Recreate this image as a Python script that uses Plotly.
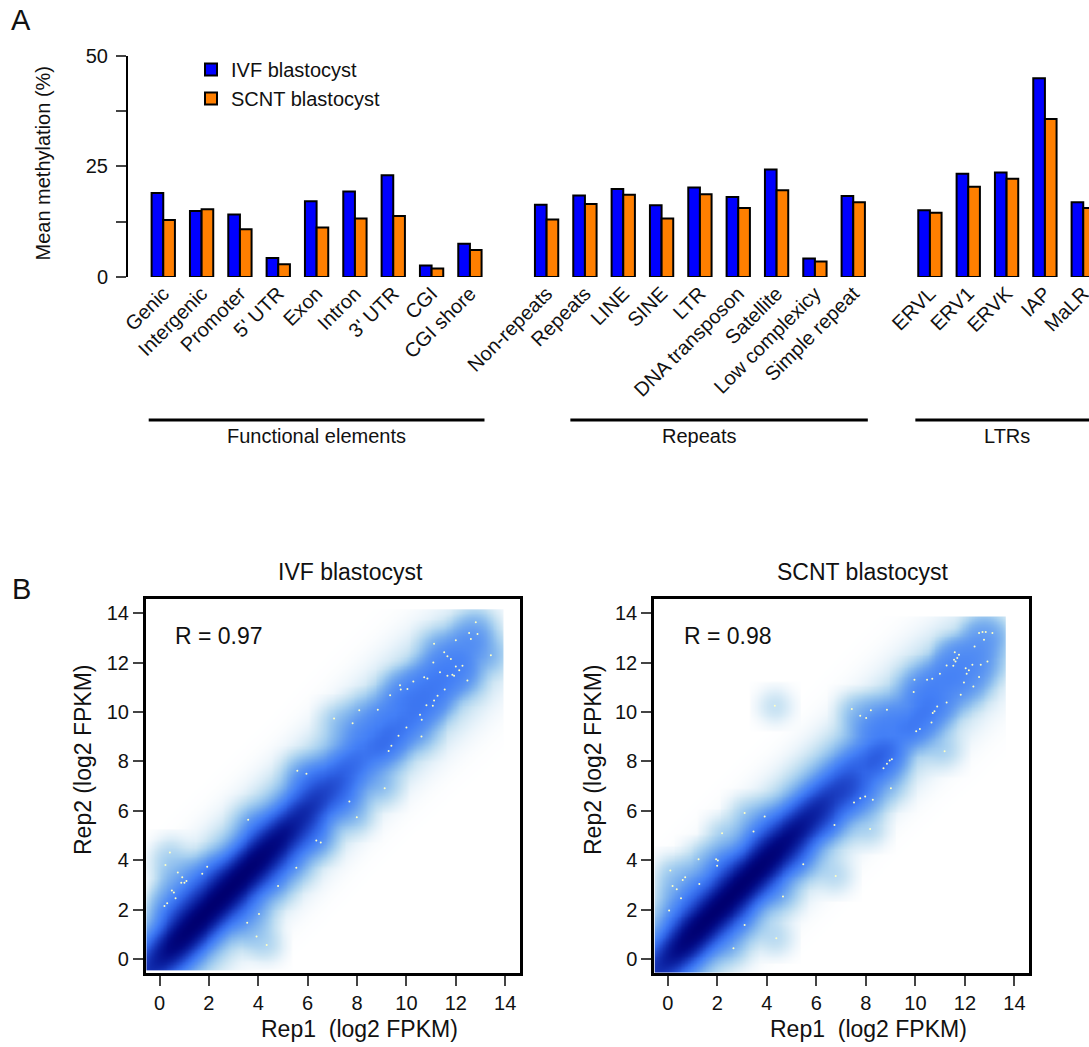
import numpy as np
import plotly.graph_objects as go

W, H = 1089, 1047
FONT = "Arial, Liberation Sans, sans-serif"

# ---------------- Panel A : mean methylation ----------------
functional_labels = ["Genic", "Intergenic", "Promoter", "5' UTR", "Exon", "Intron", "3' UTR", "CGI", "CGI shore"]
functional_ivf = [19.0, 14.9, 14.1, 4.3, 17.1, 19.3, 23.0, 2.6, 7.5]
functional_scnt = [12.9, 15.3, 10.8, 2.9, 11.2, 13.2, 13.8, 1.9, 6.1]

repeat_labels = ["Non-repeats", "Repeats", "LINE", "SINE", "LTR", "DNA transposon", "Satellite", "Low complexicy", "Simple repeat"]
repeat_ivf = [16.3, 18.4, 19.9, 16.2, 20.2, 18.1, 24.3, 4.2, 18.3]
repeat_scnt = [13.0, 16.5, 18.6, 13.2, 18.7, 15.6, 19.6, 3.5, 16.9]

ltr_labels = ["ERVL", "ERV1", "ERVK", "IAP", "MaLR"]
ltr_ivf = [15.1, 23.3, 23.6, 44.9, 16.9]
ltr_scnt = [14.5, 20.4, 22.2, 35.7, 15.6]

group_titles = ["Functional elements", "Repeats", "LTRs"]
group_title_first = ["Genic", "Non-repeats", "ERVL"]
group_title_last = ["CGI shore", "Simple repeat", "MaLR"]
group_line_first = ["Genic", "Repeats", "ERVL"]
group_line_last = ["CGI shore", "Simple repeat", "MaLR"]

y_ticks_a = [0, 12.5, 25, 37.5, 50]
y_ticklabels_a = ["0", "", "25", "", "50"]

# ---------------- Panel B : replicate correlation ----------------
ivf_R = "R = 0.97"
scnt_R = "R = 0.98"
# ridge of the smoothed density (read along the diagonal): centre, darkness level, spread
ivf_ridge_x = [-0.5, 0.3, 1, 2, 3, 4, 5, 6, 7, 8, 9, 10, 11, 12, 13]
ivf_ridge_y = [-0.5, 0.25, 1.05, 2.05, 3.05, 4.05, 5.05, 6.1, 7.1, 8.1, 9.1, 10.05, 11.0, 12.0, 12.9]
ivf_ridge_level = [0.75, 0.97, 1.0, 1.0, 1.0, 0.99, 0.93, 0.83, 0.73, 0.63, 0.56, 0.5, 0.46, 0.41, 0.32]
ivf_ridge_spread = [0.95, 1.0, 1.0, 1.02, 1.02, 1.02, 1.02, 1.02, 1.02, 1.05, 1.08, 1.1, 1.12, 1.12, 1.05]
ivf_image_x = [-0.5, 13.9]
ivf_image_y = [-0.45, 14.15]

scnt_ridge_x = [-0.5, 0.3, 1, 2, 3, 4, 5, 6, 7, 8, 9, 10, 11, 12, 13]
scnt_ridge_y = [-0.5, 0.25, 1.05, 2.05, 3.05, 4.05, 5.05, 6.05, 7.05, 8.05, 9.05, 10.0, 11.0, 11.95, 12.9]
scnt_ridge_level = [0.75, 0.96, 1.0, 1.0, 1.0, 0.99, 0.94, 0.85, 0.75, 0.65, 0.56, 0.49, 0.43, 0.37, 0.28]
scnt_ridge_spread = [0.95, 0.98, 0.98, 1.0, 1.0, 1.0, 1.0, 1.0, 1.0, 1.02, 1.05, 1.08, 1.1, 1.1, 1.0]
scnt_image_x = [-0.5, 13.65]
scnt_image_y = [-0.5, 13.85]

# sparse genes drawn as dots (low-density points)
ivf_pts_x = [0.24, 0.42, 0.74, 0.92, 1.01, 0.88, 1.09, 0.50, 0.58, 0.65, 0.31, 0.20, 1.73, 1.93, 3.59, 4.80, 5.54,
             4.03, 3.55, 3.93, 4.34, 5.58, 5.95, 7.07, 7.82, 8.09, 8.84, 6.35, 6.53, 7.69, 7.99, 9.12, 9.28, 9.39,
             9.68, 10.0, 10.61, 10.55, 10.62, 10.81, 11.07, 11.12, 11.26, 9.34, 9.74, 9.77, 10.04, 10.28, 10.72,
             10.85, 11.12, 11.09, 11.36, 11.53, 11.55, 11.66, 11.80, 11.86, 12.0, 12.14, 12.27, 12.0, 12.54, 12.88,
             12.81, 12.61, 12.47, 13.42, 11.66, 11.93]
ivf_pts_y = [3.81, 4.31, 3.50, 3.31, 3.09, 3.09, 3.16, 2.77, 2.69, 2.46, 2.26, 2.15, 3.45, 3.74, 5.64, 2.96, 3.70,
             1.82, 1.47, 0.91, 0.57, 7.62, 7.50, 9.74, 9.55, 10.07, 10.09, 4.80, 4.72, 6.38, 5.74, 6.92, 8.42, 8.64,
             9.04, 9.38, 9.01, 9.89, 9.69, 10.28, 10.26, 10.47, 10.66, 10.68, 11.09, 10.91, 10.93, 11.24, 11.41,
             11.36, 12.77, 12.01, 11.61, 12.42, 10.91, 12.26, 12.15, 11.51, 11.85, 11.69, 11.88, 12.91, 13.20, 13.16,
             13.64, 12.96, 11.28, 12.30, 11.47, 11.47]

scnt_pts_x = [0.05, 0.10, 0.19, 0.36, 0.53, 0.60, 0.70, 1.24, 1.27, 1.95, 2.02, 1.99, 2.19, 3.10, 3.46, 3.91, 4.32,
              4.65, 5.47, 3.10, 2.65, 4.38, 6.78, 6.73, 7.43, 7.77, 8.01, 8.20, 8.85, 8.17, 7.52, 7.77, 7.97, 8.28,
              9.01, 8.71, 8.85, 8.96, 9.05, 10.03, 10.18, 10.65, 10.70, 10.77, 10.88, 11.26, 11.18, 9.93, 9.96,
              10.47, 10.68, 10.99, 11.26, 11.53, 11.59, 11.69, 11.83, 11.96, 12.03, 12.07, 12.16, 12.30, 12.34,
              12.39, 12.57, 12.64, 12.91, 12.77, 12.57, 12.71, 12.84, 13.11, 11.56, 11.62, 11.76]
scnt_pts_y = [1.96, 3.58, 2.96, 2.82, 2.46, 3.20, 3.31, 4.04, 3.04, 4.04, 3.99, 3.78, 5.09, 5.91, 5.16, 5.77, 10.26,
              2.53, 3.84, 1.38, 0.43, 0.84, 3.36, 5.43, 10.12, 9.85, 9.76, 10.07, 10.09, 5.26, 6.34, 6.51, 6.58, 6.45,
              6.92, 7.73, 7.91, 8.04, 8.09, 9.22, 9.31, 9.58, 9.96, 10.03, 10.23, 10.39, 8.41, 10.81, 11.31,
              11.31, 11.35, 11.55, 11.89, 11.88, 12.42, 12.19, 10.70, 11.20, 11.78, 11.55, 11.69, 11.92, 11.04,
              12.66, 11.42, 11.92, 12.05, 12.93, 13.20, 13.24, 13.24, 13.20, 12.12, 12.05, 12.32]

axis_ticks_b = [0, 2, 4, 6, 8, 10, 12, 14]

DENSITY_SCALE = [
    [0.0, "#FFFFFF"], [0.02, "#F6FAFD"], [0.07, "#E2F0F9"], [0.14, "#C9E3F3"],
    [0.24, "#A7D0F0"], [0.36, "#80B4EE"], [0.48, "#5B95F2"], [0.58, "#437FF6"],
    [0.68, "#2F63E6"], [0.77, "#1D42C6"], [0.86, "#0C22A2"], [0.94, "#020A84"], [1.0, "#000070"],
]


def px(x):
    return x / W


def py(y):
    return 1 - y / H


def smooth_density(rx, ry, rlev, rspr, ptx, pty, ext_x, ext_y, step=0.06):
    """Smoothed-scatter style density image built from the ridge and the sparse points."""
    gx = np.arange(ext_x[0], ext_x[1] + 1e-9, step)
    gy = np.arange(ext_y[0], ext_y[1] + 1e-9, step)
    X, Y = np.meshgrid(gx, gy)
    s2 = np.sqrt(2.0)
    U = (X + Y) / s2
    V = (Y - X) / s2
    rx, ry = np.asarray(rx), np.asarray(ry)
    au = (rx + ry) / s2
    av = (ry - rx) / s2
    s_par = 0.8
    K = np.exp(-(U[..., None] - au) ** 2 / (2 * s_par ** 2))
    ks = K.sum(-1) + 1e-12
    lev = (K * np.asarray(rlev)).sum(-1) / ks
    spr = (K * np.asarray(rspr)).sum(-1) / ks
    cen = (K * av).sum(-1) / ks
    cover = np.clip(ks / 1.4, 0, 1)
    ridge = lev * cover * np.exp(-(V - cen) ** 2 / (2 * spr ** 2))
    Hh = np.zeros_like(X)
    for x0, y0 in zip(ptx, pty):
        dx = X - x0
        dy = Y - y0
        m = (np.abs(dx) < 1.0) & (np.abs(dy) < 1.0)
        Hh += 0.2 * np.exp(-(dx ** 2 + dy ** 2) / (2 * 0.45 ** 2)) * m
    halo = 0.28 * (1 - np.exp(-Hh / 0.28))
    F = 1 - (1 - np.clip(ridge, 0, 1)) * (1 - halo)
    return gx, gy, F


fig = go.Figure()

# ---- Panel A bars ----
categories = functional_labels + [" "] + repeat_labels + ["  "] + ltr_labels
ivf_values = functional_ivf + [None] + repeat_ivf + [None] + ltr_ivf
scnt_values = functional_scnt + [None] + repeat_scnt + [None] + ltr_scnt

fig.add_trace(go.Bar(x=categories, y=ivf_values, name="IVF blastocyst",
                     marker=dict(color="#0000FF", line=dict(color="black", width=2)),
                     xaxis="x", yaxis="y"))
fig.add_trace(go.Bar(x=categories, y=scnt_values, name="SCNT blastocyst",
                     marker=dict(color="#FF7F00", line=dict(color="black", width=2)),
                     xaxis="x", yaxis="y"))

# ---- Panel B density + points ----
for (rx, ry, rl, rs, ptx, pty, ex, ey, xa, ya) in [
    (ivf_ridge_x, ivf_ridge_y, ivf_ridge_level, ivf_ridge_spread, ivf_pts_x, ivf_pts_y, ivf_image_x, ivf_image_y, "x2", "y2"),
    (scnt_ridge_x, scnt_ridge_y, scnt_ridge_level, scnt_ridge_spread, scnt_pts_x, scnt_pts_y, scnt_image_x, scnt_image_y, "x3", "y3"),
]:
    gx, gy, F = smooth_density(rx, ry, rl, rs, ptx, pty, ex, ey)
    fig.add_trace(go.Heatmap(x=gx, y=gy, z=F, colorscale=DENSITY_SCALE, zmin=0, zmax=1,
                             showscale=False, zsmooth="best", hoverinfo="skip", xaxis=xa, yaxis=ya))
    fig.add_trace(go.Scatter(x=ptx, y=pty, mode="markers", showlegend=False,
                             marker=dict(size=2, color="#FFFFC4", line=dict(width=0)),
                             xaxis=xa, yaxis=ya))

tickfont = dict(family=FONT, size=20, color="#111111")

layout = dict(
    width=W, height=H, margin=dict(l=0, r=0, t=0, b=0, autoexpand=False),
    paper_bgcolor="white", plot_bgcolor="rgba(0,0,0,0)",
    font=dict(family=FONT, size=20, color="#111111"),
    barmode="group", bargap=0.392, bargroupgap=0,
    showlegend=True,
    legend=dict(x=px(191), y=py(50), xanchor="left", yanchor="top",
                bgcolor="rgba(0,0,0,0)", font=dict(family=FONT, size=20, color="#111111"),
                tracegroupgap=0),
    xaxis=dict(domain=[px(144.1), 1.0], range=[-0.5, 24.15], type="category",
               showline=False, showgrid=False, zeroline=False, ticks="",
               tickangle=-45, tickfont=tickfont, anchor="y", fixedrange=True, automargin=False),
    yaxis=dict(domain=[py(277), py(55.7)], range=[0, 50], anchor="free", position=px(127),
               tickvals=y_ticks_a, ticktext=y_ticklabels_a, ticks="outside", ticklen=10, tickwidth=2,
               showline=True, linewidth=2, linecolor="black", showgrid=False, zeroline=False,
               tickfont=tickfont, ticklabelstandoff=4, automargin=False),
)

for i, (xa, ya, x0, x1) in enumerate([("xaxis2", "yaxis2", 145.7, 520.0), ("xaxis3", "yaxis3", 654.0, 1029.3)]):
    n = i + 2
    layout[xa] = dict(domain=[px(x0), px(x1)], range=[-0.56, 14.6], anchor=f"y{n}",
                      tickvals=axis_ticks_b, ticks="outside", ticklen=10, tickwidth=2,
                      showline=True, mirror=True, linewidth=2.5, linecolor="black",
                      showgrid=False, zeroline=False, tickfont=tickfont, automargin=False)
    layout[ya] = dict(domain=[py(973.3), py(599)], range=[-0.58, 14.58], anchor=f"x{n}",
                      tickvals=axis_ticks_b, ticks="outside", ticklen=10, tickwidth=2,
                      showline=True, mirror=True, linewidth=2.5, linecolor="black",
                      showgrid=False, zeroline=False, tickfont=tickfont, automargin=False)

fig.update_layout(**layout)

ann = []
shapes = []


def text(x, y, s, size=20, angle=0, xanchor="center", yanchor="middle"):
    ann.append(dict(x=px(x), y=py(y), xref="paper", yref="paper", text=s, showarrow=False,
                    textangle=angle, xanchor=xanchor, yanchor=yanchor,
                    font=dict(family=FONT, size=size, color="#111111")))


text(21, 20, "A", size=29)
text(21, 589, "B", size=29)
text(42.5, 163, "Mean methylation (%)", size=20, angle=-90)

# group brackets under the category labels (positioned on the category axis)
for title, tf, tl, lf, ll in zip(group_titles, group_title_first, group_title_last, group_line_first, group_line_last):
    i_tf, i_tl = categories.index(tf), categories.index(tl)
    i_lf, i_ll = categories.index(lf), categories.index(ll)
    shapes.append(dict(type="line", xref="x", yref="paper", x0=i_lf - 0.38, x1=i_ll + 0.38,
                       y0=py(420), y1=py(420), line=dict(color="black", width=3)))
    ann.append(dict(x=(i_tf + i_tl) / 2, y=py(436), xref="x", yref="paper", text=title, showarrow=False,
                    xanchor="center", yanchor="middle", font=dict(family=FONT, size=20, color="#111111")))

# panel B texts
text(350, 572, "IVF blastocyst", size=23)
text(862, 572, "SCNT blastocyst", size=23)
text(173, 636, ivf_R, size=23, xanchor="left")
text(682, 636, scnt_R, size=23, xanchor="left")
text(83, 760, "Rep2 (log2 FPKM)", size=23, angle=-90)
text(593, 760, "Rep2 (log2 FPKM)", size=23, angle=-90)
text(359, 1029, "Rep1 \u00a0(log2 FPKM)", size=23)
text(868, 1029, "Rep1 \u00a0(log2 FPKM)", size=23)

fig.update_layout(annotations=ann, shapes=shapes)

fig.write_html("out.html", config={"displayModeBar": False},
               post_script="document.body.style.margin='0';")
